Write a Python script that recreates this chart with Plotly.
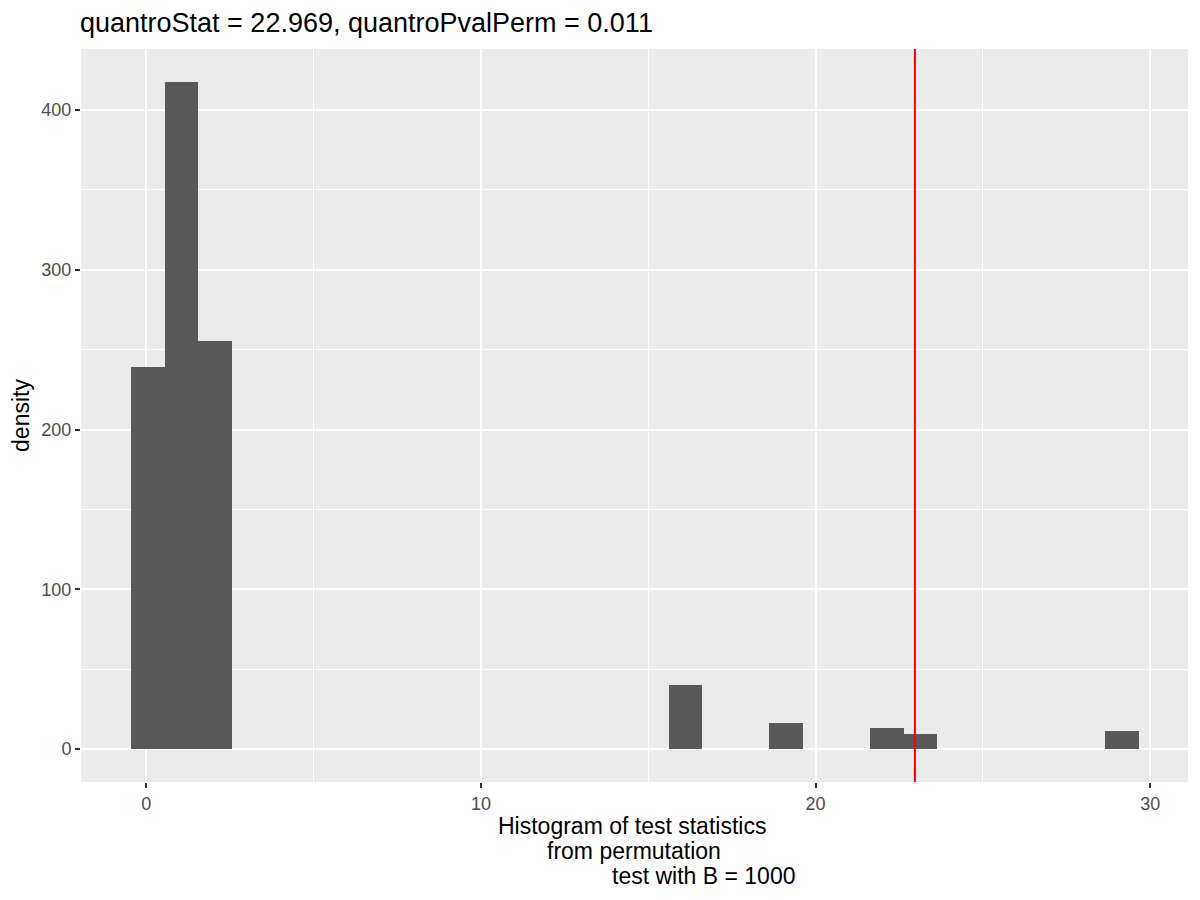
import plotly.graph_objects as go

# histogram bins (bin centre, density)
bin_centers = [0.054, 1.057, 2.060, 16.11, 19.12, 22.13, 23.13, 29.16]
density = [239, 417.5, 255.4, 40, 16.3, 13.1, 9.4, 11.3]
bin_width = 1.0035

quantro_stat = 22.969
quantro_pval = 0.011
B = 1000

x_ticks = [0, 10, 20, 30]
y_ticks = [0, 100, 200, 300, 400]

FONT = "Liberation Sans"

fig = go.Figure()
fig.add_trace(go.Bar(
    x=bin_centers,
    y=density,
    width=bin_width,
    marker=dict(color="#595959", line=dict(width=0)),
    showlegend=False,
    hoverinfo="x+y",
))

# observed statistic
fig.add_shape(type="line", xref="x", yref="paper",
              x0=quantro_stat, x1=quantro_stat, y0=0, y1=1,
              line=dict(color="red", width=2))

# page body has an 8px margin, so everything is laid out 8px up/left
OFF = 8
W, H = 1200 - OFF, 900 - OFF
L, R, T, Bt = 81 - OFF, 1188 - OFF, 49 - OFF, 782 - OFF

def px_x(p):
    return (p - OFF - L) / (R - L)

def px_y(p):
    return (Bt - (p - OFF)) / (Bt - T)

# x-axis title, three lines as in the original
xlab_lines = ["Histogram of test statistics", "from permutation", "test with B = %d" % B]
xlab_pos = [(632, 826), (634, 851), (703, 876)]
for txt, (px, py) in zip(xlab_lines, xlab_pos):
    fig.add_annotation(text=txt, xref="paper", yref="paper",
                       x=px_x(px), y=px_y(py), xanchor="center", yanchor="middle",
                       showarrow=False, font=dict(family=FONT, size=23, color="black"))

fig.update_layout(
    width=W, height=H,
    margin=dict(l=L, r=W - R, t=T, b=H - Bt),
    paper_bgcolor="white",
    plot_bgcolor="#EBEBEB",
    bargap=0,
    font=dict(family=FONT),
    title=dict(
        text="quantroStat = %.3f, quantroPvalPerm = %.3f" % (quantro_stat, quantro_pval),
        x=(80 - OFF) / W, xanchor="left", xref="container",
        y=1 - (23 - OFF) / H, yanchor="middle", yref="container",
        font=dict(family=FONT, size=27, color="black"),
    ),
)

fig.update_xaxes(
    range=[-1.95, 31.13],
    tickvals=x_ticks,
    ticktext=[str(v) for v in x_ticks],
    ticks="outside", ticklen=5, tickwidth=1.5, tickcolor="#333333",
    tickfont=dict(family=FONT, size=18, color="#4D4D4D"),
    showgrid=True, gridcolor="white", gridwidth=2,
    minor=dict(dtick=5, tick0=0, showgrid=True, gridcolor="white", gridwidth=1),
    zeroline=False, showline=False,
)
fig.update_yaxes(
    range=[-20.66, 438.2],
    tickvals=y_ticks,
    ticktext=[str(v) for v in y_ticks],
    ticks="outside", ticklen=5, tickwidth=1.5, tickcolor="#333333",
    tickfont=dict(family=FONT, size=18, color="#4D4D4D"),
    showgrid=True, gridcolor="white", gridwidth=2,
    minor=dict(dtick=50, tick0=0, showgrid=True, gridcolor="white", gridwidth=1),
    zeroline=False, showline=False,
    title=dict(text="density", standoff=6, font=dict(family=FONT, size=23, color="black")),
)

fig.write_html("out.html")
